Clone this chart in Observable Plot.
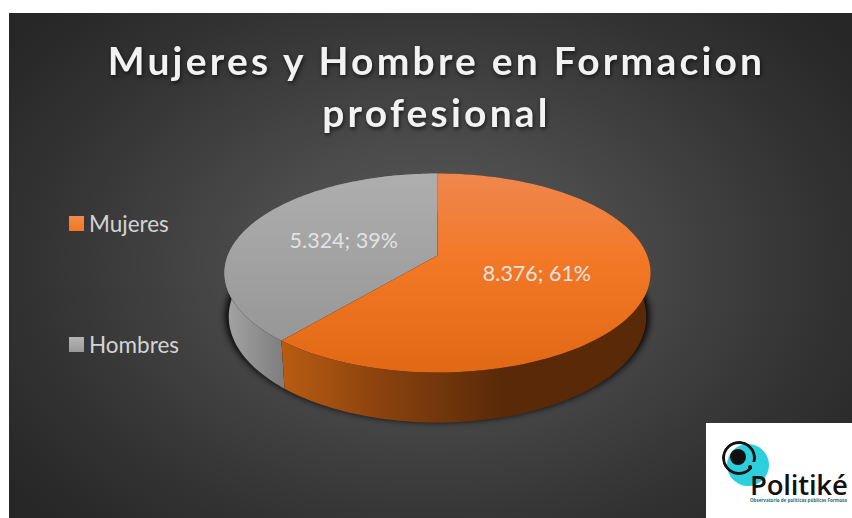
<!DOCTYPE html>
<html lang="es">
<head>
<meta charset="utf-8">
<script src="https://cdn.jsdelivr.net/npm/d3@7"></script>
<script src="https://cdn.jsdelivr.net/npm/@observablehq/plot@0.6"></script>
<style>
html,body{margin:0;padding:0;background:#fff;overflow:hidden}
#wrap{position:relative;width:852px;height:518px;overflow:hidden}
#panel{position:absolute;left:9px;top:13px;width:843px;height:505px;
  background:radial-gradient(ellipse 62% 72% at 50% 50%,#5c5c5c 0%,#4a4a4a 35%,#333 75%,#272727 100%)}
#chart{position:absolute;left:0;top:0}
#chart svg{background:transparent;display:block}
.pie-shadow{filter:blur(3px)}
.pie-title text{letter-spacing:3.2px;filter:drop-shadow(1px 2px 2px rgba(0,0,0,.65))}
.leg{position:absolute;left:69px;font:22.5px Lato,sans-serif;color:#d4d4d4;height:28px;line-height:28px;padding-left:20px}
.leg i{position:absolute;left:0;top:6px;width:15px;height:15px}
#logo{position:absolute;left:706px;top:423px;width:146px;height:95px;background:#fff;overflow:hidden}
#logo .c{position:absolute;border-radius:50%}
#logo .p{position:absolute;left:44px;top:50px;font:600 27.5px/24px "Open Sans",sans-serif;color:#111;letter-spacing:-.2px}
#logo .s{position:absolute;left:44px;top:74px;font:700 4.5px/7px "Open Sans",sans-serif;color:#2d6d74;white-space:nowrap}
</style>
</head>
<body>
<div id="wrap">
  <div id="panel"></div>
  <div id="chart"></div>
  <div class="leg" style="top:210px"><i style="background:linear-gradient(#f28a4b,#f4761e)"></i>Mujeres</div>
  <div class="leg" style="top:331px"><i style="background:linear-gradient(#b5b5b5,#9a9a9a)"></i>Hombres</div>
  <div id="logo">
    <div class="c" style="left:21px;top:21px;width:42px;height:42px;background:#2bd0dc"></div>
    <div class="c" style="left:16px;top:18px;width:34px;height:34px;box-sizing:border-box;border:3.5px solid #111;-webkit-mask:conic-gradient(#000 0 105deg,transparent 105deg 130deg,#000 130deg)"></div>
    <div class="c" style="left:24px;top:26px;width:16px;height:16px;background:#111"></div>
    <div class="c" style="left:42px;top:42px;width:4px;height:4px;background:#111"></div>
    <div class="p">Politiké</div>
    <div class="s">Observatorio de políticas públicas Formosa</div>
  </div>
</div>
<script>
const categories = ["Mujeres", "Hombres"];
const values = [8376, 5324];
const percents = [61, 39];
const titleLines = ["Mujeres y Hombre en Formacion", "profesional"];

// Perspective of the 3D pie: unit disc -> picture units around the pie centre
const tilt = 0.176;
const topDisc = {rx: 209.7, ry: 96.4, dy: 0};
const baseDisc = {rx: 205.5, ry: 102.6, dy: 42.5};
const project = (d, a, f = 1) => {
  const u = Math.sin(a) * f, v = -Math.cos(a) * f, w = 1 - tilt * v;
  return {x: d.rx * u / w, y: d.dy + d.ry * v / w};
};

const total = d3.sum(values);
const tau = 2 * Math.PI;
let acc = 0;
const slices = categories.map((name, i) => {
  const a0 = acc / total * tau;
  acc += values[i];
  return {name, value: values[i], pct: percents[i], a0, a1: acc / total * tau};
});
const arc = (a0, a1) => d3.range(0, 121).map(k => a0 + (a1 - a0) * k / 120);

const face = s => [{...project(topDisc, s.a0, 0)},
  ...arc(s.a0, s.a1).map(a => project(topDisc, a))];
const wall = s => [...arc(s.a0, s.a1).map(a => project(topDisc, a)),
  ...arc(s.a0, s.a1).reverse().map(a => project(baseDisc, a))];
const shadowRing = arc(0, tau).map(a => project({...baseDisc, rx: 209, dy: 42}, a));
const labelsData = slices.map(s => {
  const p = project(topDisc, (s.a0 + s.a1) / 2, 0.49);
  return {...p, text: `${s.value.toLocaleString("es-AR")}; ${s.pct}%`};
});

const grad = (id, attrs, stops) => {
  const g = d3.create("svg:linearGradient").attr("id", id);
  Object.entries(attrs).forEach(([k, v]) => g.attr(k, v));
  stops.forEach(([o, c]) => g.append("stop").attr("offset", o).attr("stop-color", c));
  return g.node();
};
const defs = () => {
  const d = d3.create("svg:defs");
  const v = {x1: 0, y1: 0, x2: 0, y2: 1};
  d.append(() => grad("faceM", v, [[0, "#ef874e"], [0.45, "#f37825"], [1, "#e16815"]]));
  d.append(() => grad("faceH", v, [[0, "#aeaeae"], [1, "#979797"]]));
  d.append(() => grad("wallM", {gradientUnits: "userSpaceOnUse", x1: 283, x2: 500, y1: 0, y2: 0},
    [[0, "#b85b12"], [0.45, "#8a420e"], [1, "#5a2a08"]]));
  d.append(() => grad("wallH", {gradientUnits: "userSpaceOnUse", x1: 228, x2: 285, y1: 0, y2: 0},
    [[0, "#a2a2a2"], [1, "#7c7c7c"]]));
  return d.node();
};

const chart = Plot.plot({
  width: 852, height: 518,
  margin: 0,
  x: {domain: [-437, 415], range: [0, 852], axis: null},
  y: {domain: [-255, 263], range: [0, 518], axis: null},
  marks: [
    defs,
    Plot.line(shadowRing, {x: "x", y: "y", fill: "#0a0a0a", stroke: "none", className: "pie-shadow"}),
    Plot.line(wall(slices[1]), {x: "x", y: "y", fill: "url(#wallH)", stroke: "none"}),
    Plot.line(wall(slices[0]), {x: "x", y: "y", fill: "url(#wallM)", stroke: "none"}),
    Plot.line(face(slices[1]), {x: "x", y: "y", fill: "url(#faceH)", stroke: "none"}),
    Plot.line(face(slices[0]), {x: "x", y: "y", fill: "url(#faceM)", stroke: "none"}),
    Plot.text(labelsData, {x: "x", y: "y", text: "text", fill: "#e2e2e2", fontSize: 21.5, fontFamily: "Lato, sans-serif", dy: 1.5}),
    Plot.text([titleLines.join("\n")], {
      frameAnchor: "top", dx: 10, dy: 38, lineHeight: 1.32,
      fill: "#f2f2f2", fontSize: 39, fontWeight: 700, fontFamily: "Lato, sans-serif", className: "pie-title"
    })
  ]
});
document.getElementById("chart").append(chart);
</script>
</body>
</html>
